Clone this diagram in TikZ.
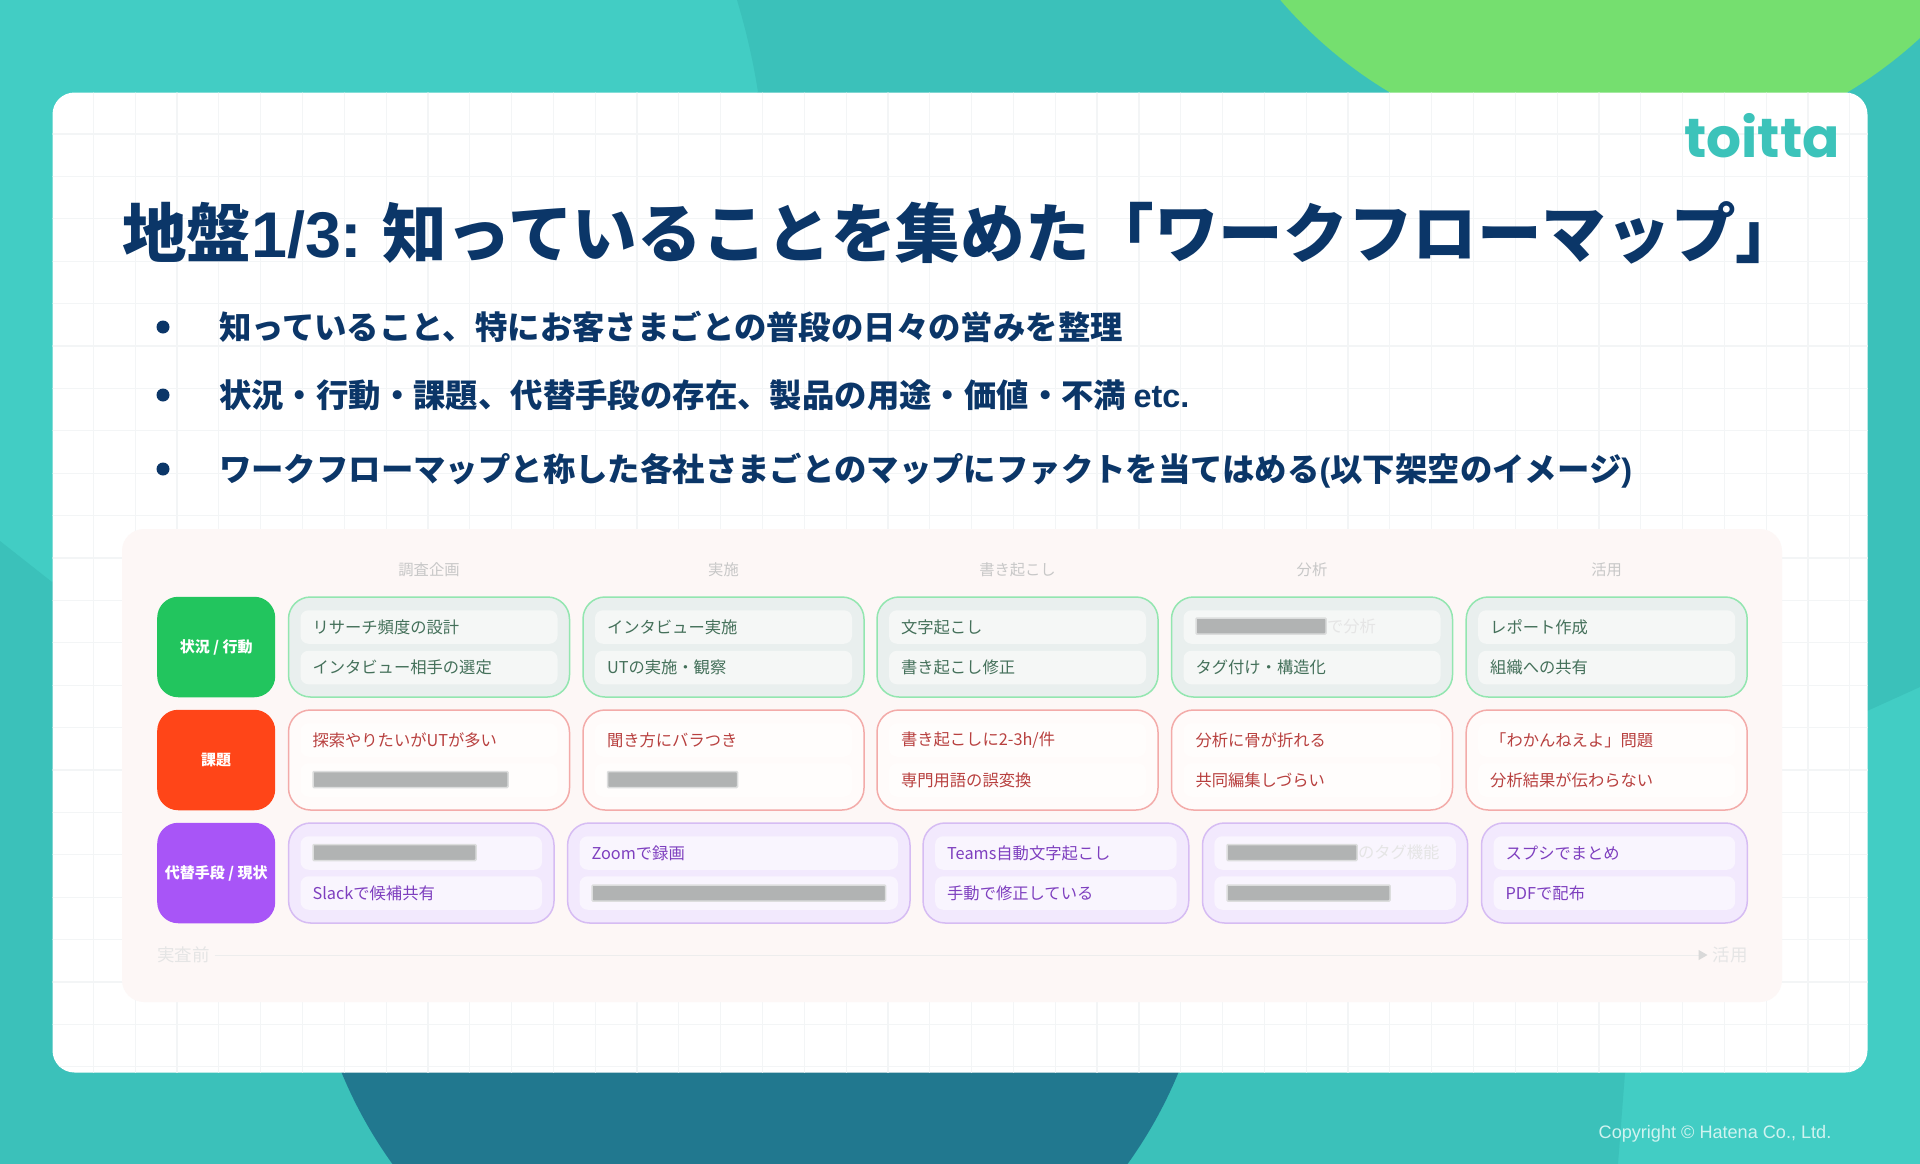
\documentclass[tikz,border=0pt]{standalone}
\usepackage{fontspec}
\setmainfont{Noto Sans CJK JP}
\newfontfamily\latfont{Liberation Sans}
\newfontfamily\logofont{Poppins}
\usetikzlibrary{arrows.meta, positioning}
\definecolor{tbase}{HTML}{42CDC4}
\definecolor{tdeep}{HTML}{3BC1BA}
\definecolor{tgreen}{HTML}{75DF6F}
\definecolor{tblue}{HTML}{21788F}
\definecolor{tnavy}{HTML}{0B3668}
\definecolor{tgrid}{HTML}{F3F5F6}
\definecolor{tpanel}{HTML}{FDF7F6}
\definecolor{tbar}{HTML}{B1B3B3}
\definecolor{tlogo}{HTML}{3CC3BA}
\definecolor{tdone}{HTML}{22C55E}
\definecolor{tpain}{HTML}{FF4518}
\definecolor{talt}{HTML}{A855F7}
\definecolor{okfill}{HTML}{E9EFEE}
\definecolor{okline}{HTML}{93E6B0}
\definecolor{okbox}{HTML}{F5F7F6}
\definecolor{oktext}{HTML}{44705A}
\definecolor{badfill}{HTML}{FFFBFA}
\definecolor{badline}{HTML}{F3ABA9}
\definecolor{badbox}{HTML}{FFFDFC}
\definecolor{badtext}{HTML}{B8403F}
\definecolor{altfill}{HTML}{F2E9FD}
\definecolor{altline}{HTML}{D6BCF3}
\definecolor{altbox}{HTML}{F9F5FE}
\definecolor{alttext}{HTML}{7E3FBF}
\newcommand{\fpx}[1]{\fontsize{#1}{#1}\selectfont}
\newcommand{\lat}{\latfont}

\begin{document}
\begin{tikzpicture}[
  x=1pt, y=-1pt,
  every node/.style={inner sep=0pt, outer sep=0pt},
  gridline/.style={draw=tgrid, line width=1.2pt},
  heading/.style={font=\fpx{15.3}, text=black!22},
  bullet/.style={circle, fill=tnavy, minimum size=13pt},
  point/.style={anchor=west, font=\fpx{32.4}\bfseries, text=tnavy},
  side/.style={rounded corners=21pt, minimum width=118pt, minimum height=100.5pt,
               font=\fpx{15}\bfseries, text=white},
  cell/.style={rounded corners=22pt, minimum height=100pt, line width=1.5pt},
  item/.style={rounded corners=8pt, minimum height=33.5pt, inner xsep=12pt,
               text width=#1, align=left, font=\fpx{16.3}},
  okcell/.style={cell, fill=okfill, draw=okline},
  okitem/.style={item=233pt, fill=okbox, text=oktext},
  badcell/.style={cell, fill=badfill, draw=badline},
  baditem/.style={item=233pt, fill=badbox, text=badtext},
  altcell/.style={cell, fill=altfill, draw=altline},
  altitem/.style={item=#1, fill=altbox, text=alttext},
  altitem/.default=217.5pt,
  bar/.style={fill=tbar, draw=tbar!45, line width=1.5pt, rounded corners=1pt, minimum height=16pt},
  faint/.style={font=\fpx{16.3}, text=black!10},
  pole/.style={font=\fpx{17.5}, text=black!10, inner xsep=5pt},
]
  \useasboundingbox (0,0) rectangle (1920,1164);

  % Backdrop
  \fill[tbase] (0,0) rectangle (1920,1164);
  \begin{scope}
    \clip (0,0) rectangle (1920,1164);
    \fill[tdeep] (737,0) .. controls (746,30) and (753,60) .. (758,92) -- (52,582) -- (0,541)
      -- (0,1164) -- (1618,1164) -- (1625,1073) -- (1867,711) -- (1920,687) -- (1920,0) -- cycle;
    \fill[tgreen] (1618.5,-290) circle (445.5);
    \fill[tblue] (760,900) circle (452.5);
  \end{scope}

  % Slide
  \node[rounded corners=22pt, fill=white, minimum width=1815pt, minimum height=980pt] (slide) at (960,582.5) {};
  \begin{scope}
    \clip[rounded corners=22pt] (52.5,92.5) rectangle (1867.5,1072.5);
    \draw[gridline, shift={(93.4,134)}, xstep=41.82pt, ystep=42.4pt] (-42,-43) grid (1775,939);
  \end{scope}
  \node[font=\logofont\fpx{55}\bfseries, text=tlogo] (logo) at (1762,136) {toitta};
  \node[anchor=west, font=\fpx{64.6}\bfseries, text=tnavy] (title) at (122,233)
    {地盤{\lat 1/3:} 知っていることを集めた「ワークフローマップ」};

  % Points
  \node[bullet] (b1) at (163,327) {};
  \node[bullet] (b2) at (163,395) {};
  \node[bullet] (b3) at (163,469) {};
  \node[point] (p1) at (219,327) {知っていること、特にお客さまごとの普段の日々の営みを整理};
  \node[point] (p2) at (219,395) {状況・行動・課題、代替手段の存在、製品の用途・価値・不満 {\lat etc.}};
  \node[point] (p3) at (219,471) {ワークフローマップと称した各社さまごとのマップにファクトを当てはめる{\lat (}以下架空のイメージ{\lat )}};

  % Panel
  \node[rounded corners=22pt, fill=tpanel, minimum width=1660pt, minimum height=473pt] (panel) at (952,765.5) {};
  \node[heading] (h1) at (429,569.5) {調査企画};
  \node[heading] (h2) at (723.5,569.5) {実施};
  \node[heading] (h3) at (1017.5,569.5) {書き起こし};
  \node[heading] (h4) at (1312,569.5) {分析};
  \node[heading] (h5) at (1606.7,569.5) {活用};

  % Row 1 - Situation
  \node[side, fill=tdone] (s1) at (216.2,647) {状況 / 行動};
  \node[okcell, minimum width=281pt] (a1) at (429,647) {};
  \node[okcell, minimum width=281pt] (a2) at (723.5,647) {};
  \node[okcell, minimum width=281pt] (a3) at (1017.5,647) {};
  \node[okcell, minimum width=281pt] (a4) at (1312,647) {};
  \node[okcell, minimum width=281pt] (a5) at (1606.7,647) {};
  \node[okitem] (a1u) at (429,627) {リサーチ頻度の設計};
  \node[okitem] (a1l) at (429,667.5) {インタビュー相手の選定};
  \node[okitem] (a2u) at (723.5,627) {インタビュー実施};
  \node[okitem] (a2l) at (723.5,667.5) {UTの実施・観察};
  \node[okitem] (a3u) at (1017.5,627) {文字起こし};
  \node[okitem] (a3l) at (1017.5,667.5) {書き起こし修正};
  \node[okitem] (a4u) at (1312,627) {};
  \node[okitem] (a4l) at (1312,667.5) {タグ付け・構造化};
  \node[okitem] (a5u) at (1606.7,627) {レポート作成};
  \node[okitem] (a5l) at (1606.7,667.5) {組織への共有};
  \node[bar, minimum width=130pt] (a4b) at (1261,626) {};
  \node[faint, right=1pt of a4b] (a4f) {で分析};

  % Row 2 - Pains
  \node[side, fill=tpain] (s2) at (216.2,760) {課題};
  \node[badcell, minimum width=281pt] (c1) at (429,760) {};
  \node[badcell, minimum width=281pt] (c2) at (723.5,760) {};
  \node[badcell, minimum width=281pt] (c3) at (1017.5,760) {};
  \node[badcell, minimum width=281pt] (c4) at (1312,760) {};
  \node[badcell, minimum width=281pt] (c5) at (1606.7,760) {};
  \node[baditem] (c1u) at (429,740) {探索やりたいがUTが多い};
  \node[baditem] (c1l) at (429,780) {};
  \node[baditem] (c2u) at (723.5,740) {聞き方にバラつき};
  \node[baditem] (c2l) at (723.5,780) {};
  \node[baditem] (c3u) at (1017.5,740) {書き起こしに2-3h/件};
  \node[baditem] (c3l) at (1017.5,780) {専門用語の誤変換};
  \node[baditem] (c4u) at (1312,740) {分析に骨が折れる};
  \node[baditem] (c4l) at (1312,780) {共同編集しづらい};
  \node[baditem] (c5u) at (1606.7,740) {「わかんねえよ」問題};
  \node[baditem] (c5l) at (1606.7,780) {分析結果が伝わらない};
  \node[bar, minimum width=195pt] (c1b) at (410.5,779.5) {};
  \node[bar, minimum width=130pt] (c2b) at (672.5,779.5) {};

  % Row 3 - Workarounds
  \node[side, fill=talt] (s3) at (216.2,873) {代替手段 / 現状};
  \node[altcell, minimum width=265.4pt] (d1) at (421.3,873) {};
  \node[altcell, minimum width=342.4pt] (d2) at (738.8,873) {};
  \node[altcell, minimum width=265.7pt] (d3) at (1055.9,873) {};
  \node[altcell, minimum width=265.2pt] (d4) at (1335.1,873) {};
  \node[altcell, minimum width=265.8pt] (d5) at (1614.4,873) {};
  \node[altitem] (d1u) at (421.3,853) {};
  \node[altitem] (d1l) at (421.3,893) {Slackで候補共有};
  \node[altitem=294.4pt] (d2u) at (738.8,853) {Zoomで録画};
  \node[altitem=294.4pt] (d2l) at (738.8,893) {};
  \node[altitem] (d3u) at (1055.9,853) {Teams自動文字起こし};
  \node[altitem] (d3l) at (1055.9,893) {手動で修正している};
  \node[altitem] (d4u) at (1335.1,853) {};
  \node[altitem] (d4l) at (1335.1,893) {};
  \node[altitem] (d5u) at (1614.4,853) {スプシでまとめ};
  \node[altitem] (d5l) at (1614.4,893) {PDFで配布};
  \node[bar, minimum width=163pt] (d1b) at (394.5,852.5) {};
  \node[bar, minimum width=293.5pt] (d2b) at (738.8,893) {};
  \node[bar, minimum width=130pt] (d4b) at (1292,852.5) {};
  \node[bar, minimum width=163pt] (d4c) at (1308.5,893) {};
  \node[faint, right=1pt of d4b] (d4f) {のタグ機能};

  % Timeline
  \node[pole] (pre) at (183.5,955) {実査前};
  \node[pole] (post) at (1730,955) {活用};
  \draw[-{Triangle[length=9pt, width=10pt, fill=black!15, color=black!15]}, line width=1pt, black!7] (pre) -- (post);

  % Footer
  \node[font=\latfont\fpx{18.1}, text=white!75!tbase] (copy) at (1715,1134) {Copyright © Hatena Co., Ltd.};
\end{tikzpicture}
\end{document}
